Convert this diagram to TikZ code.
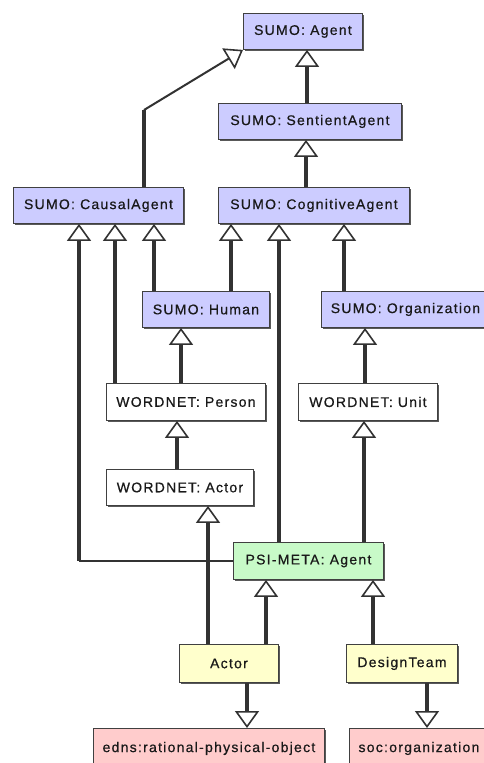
\documentclass[tikz,border=0pt]{standalone}
\usepackage{fontspec}
\setmainfont{Liberation Sans}[LetterSpace=9,FakeBold=0.6]
\usetikzlibrary{arrows.meta,shadows}
\definecolor{sumo}{RGB}{204,204,255}
\definecolor{psi}{RGB}{200,250,200}
\definecolor{own}{RGB}{255,255,204}
\definecolor{ext}{RGB}{255,204,204}
\definecolor{ln}{RGB}{50,50,50}
\tikzset{
  box/.style={draw=black!75, line width=0.9pt, inner sep=0pt, anchor=north west,
    font=\fontsize{14}{16}\selectfont, text=black!90,
    drop shadow={shadow xshift=1.6pt, shadow yshift=-1.6pt, fill=black!65, opacity=1}},
  tip/.style={-{Triangle[length=17pt, width=24pt, line width=1.6pt, fill=white]}},
  edge/.style={line width=3.8pt, draw=ln},
  inh/.style={edge, tip},
  thinedge/.style={line width=2pt, draw=ln}
}
\begin{document}
\begin{tikzpicture}[x=1pt,y=-1pt]
\useasboundingbox (0,0) rectangle (484,763);
\clip (0,0) rectangle (484,763);
\fill[white] (0,0) rectangle (484,763);
% nodes
\node[box, fill=sumo, minimum width=119pt, minimum height=36pt] (agent) at (243,13) {SUMO: Agent};
\node[box, fill=sumo, minimum width=183pt, minimum height=36pt] (sentient) at (218,103) {SUMO: SentientAgent};
\node[box, fill=sumo, minimum width=170pt, minimum height=36pt] (causal) at (13,187) {SUMO: CausalAgent};
\node[box, fill=sumo, minimum width=191pt, minimum height=36pt] (cognitive) at (218,187) {SUMO: CognitiveAgent};
\node[box, fill=sumo, minimum width=127pt, minimum height=36pt] (human) at (142,291) {SUMO: Human};
\node[box, fill=sumo, minimum width=168pt, minimum height=36pt] (org) at (321,291) {SUMO: Organization};
\node[box, fill=white, minimum width=159pt, minimum height=37pt] (person) at (106,383) {WORDNET: Person};
\node[box, fill=white, minimum width=139pt, minimum height=37pt] (unit) at (298,383) {WORDNET: Unit};
\node[box, fill=white, minimum width=147pt, minimum height=36pt] (wactor) at (106,469) {WORDNET: Actor};
\node[box, fill=psi, minimum width=150pt, minimum height=37pt] (psimeta) at (233,542) {PSI-META: Agent};
\node[box, fill=own, minimum width=99pt, minimum height=38pt] (actor) at (179,644) {Actor};
\node[box, fill=own, minimum width=111pt, minimum height=38pt] (design) at (346,644) {DesignTeam};
\node[box, fill=ext, minimum width=231pt, minimum height=40pt] (edns) at (93,728) {edns:rational-physical-object};
\node[box, fill=ext, minimum width=139pt, minimum height=40pt] (soc) at (349,728) {soc:organization};
% connectors
\coordinate (bendA) at ([xshift=131pt,yshift=77pt]causal.north west);
\draw[edge] ([xshift=131pt]causal.north west) -- (bendA);
\draw[thinedge, tip] (bendA) -- (agent.south west);
\draw[inh] ([xshift=89pt]sentient.north west) -- ([xshift=89pt]sentient.north west |- agent.south);
\draw[inh] ([xshift=88pt]cognitive.north west) -- ([xshift=88pt]cognitive.north west |- sentient.south);
\coordinate (bendB) at ([xshift=66pt]causal.south west |- psimeta.west);
\draw[thinedge] (psimeta.west) -- (bendB);
\draw[inh] (bendB) -- ([xshift=66pt]causal.south west);
\draw[inh] ([xshift=9pt]person.north west) -- ([xshift=9pt]person.north west |- causal.south);
\draw[inh] ([xshift=12pt]human.north west) -- ([xshift=12pt]human.north west |- causal.south);
\draw[inh] ([xshift=89pt]human.north west) -- ([xshift=89pt]human.north west |- cognitive.south);
\draw[inh] ([xshift=46pt]psimeta.north west) -- ([xshift=46pt]psimeta.north west |- cognitive.south);
\draw[inh] ([xshift=23pt]org.north west) -- ([xshift=23pt]org.north west |- cognitive.south);
\draw[inh] ([xshift=75pt]person.north west) -- ([xshift=75pt]person.north west |- human.south);
\draw[inh] ([xshift=67pt]unit.north west) -- ([xshift=67pt]unit.north west |- org.south);
\draw[inh] ([xshift=71pt]wactor.north west) -- ([xshift=71pt]wactor.north west |- person.south);
\draw[inh] ([xshift=131pt]psimeta.north west) -- ([xshift=131pt]psimeta.north west |- unit.south);
\draw[inh] ([xshift=29pt]actor.north west) -- ([xshift=29pt]actor.north west |- wactor.south);
\draw[inh] ([xshift=87pt]actor.north west) -- ([xshift=87pt]actor.north west |- psimeta.south);
\draw[inh] ([xshift=27pt]design.north west) -- ([xshift=27pt]design.north west |- psimeta.south);
\draw[inh] ([xshift=68pt]actor.south west) -- ([xshift=68pt]actor.south west |- edns.north);
\draw[inh] ([xshift=81pt]design.south west) -- ([xshift=81pt]design.south west |- soc.north);
\end{tikzpicture}
\end{document}
